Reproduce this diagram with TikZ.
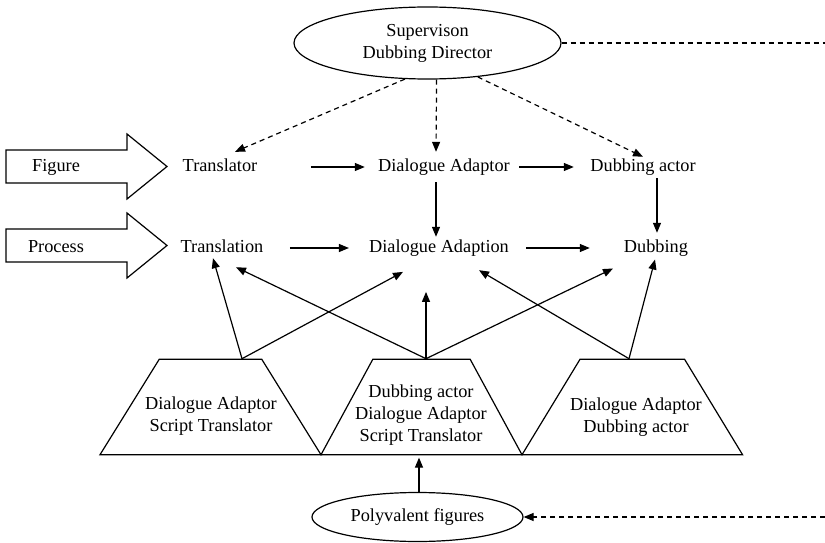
\documentclass[tikz,border=0pt]{standalone}
\usepackage{fontspec}
\setmainfont{Liberation Serif}
\usetikzlibrary{shapes.geometric,arrows.meta}
\begin{document}
\begin{tikzpicture}[x=1pt,y=-1pt,
  every node/.style={font=\fontsize{18.3}{22}\selectfont},
  lbl/.style={inner sep=0pt, text height=12pt, text depth=4pt},
  ln/.style={line width=1.2pt},
  arr/.style={ln, -{Triangle[length=10pt,width=8pt]}},
  darr/.style={arr, dash pattern=on 5pt off 4pt},
  dln/.style={ln, dash pattern=on 5pt off 4pt},
  trap/.style={draw, ln, trapezium, trapezium stretches=true, minimum height=95.4pt, inner sep=2pt},
  oval/.style={draw, ln, ellipse, inner sep=0pt, align=center},
  barrow/.style={draw, ln, line join=miter},
  inner/.style={inner sep=0pt, align=center}
]
\useasboundingbox (0,0) rectangle (825,543);

% top ellipse
\node[oval, minimum width=267pt, minimum height=72pt] (sup) at (427.5,43) {Supervison\\Dubbing Director};
\coordinate (tend) at (825,43);
\draw[dln] (sup.east) -- (tend);

% block arrows
\draw[barrow] (6,150) -- (127,150) -- (127,134) -- (167,166.5) -- (127,199) -- (127,183) -- (6,183) -- cycle;
\node[lbl] (fig) at (56,167) {Figure};
\draw[barrow] (6,229) -- (127,229) -- (127,213) -- (167,245.5) -- (127,278) -- (127,262) -- (6,262) -- cycle;
\node[lbl] (proc) at (56,248) {Process};

% row 1
\node[lbl] (tr) at (220,167) {Translator};
\node[lbl] (dad) at (444,167) {Dialogue Adaptor};
\node[lbl] (dac) at (643,167) {Dubbing actor};
% row 2
\node[lbl] (tn) at (222,248) {Translation};
\node[lbl] (dan) at (439,248) {Dialogue Adaption};
\node[lbl] (dub) at (656,248) {Dubbing};

% horizontal arrows
\draw[arr, shorten <=53.4pt, shorten >=13.2pt] (tr.east) -- (dad.west);
\draw[arr, shorten <=9.2pt, shorten >=16.4pt] (dad.east) -- (dac.west);
\draw[arr, shorten <=26.3pt, shorten >=20pt] (tn.east) -- (dan.west);
\draw[arr, shorten <=17pt, shorten >=34pt] (dan.east) -- (dub.west);

% vertical arrows
\draw[arr] ([xshift=-8pt,yshift=-7pt]dad.south) -- ([xshift=-3pt,yshift=3pt]dan.north);
\draw[arr] ([xshift=14pt,yshift=-3pt]dac.south) -- ([xshift=1pt,yshift=7pt]dub.north);

% dashed arrows from supervision
\draw[darr] (sup.238.6) -- ([xshift=15pt,yshift=7pt]tr.north);
\draw[darr] (sup.284) -- ([xshift=-8pt,yshift=7pt]dad.north);
\draw[darr] (sup.326) -- ([yshift=2pt]dac.north);

% trapezia
\node[trap, trapezium angle=60, minimum width=221pt] (trapA) at (210.5,407) {};
\node[trap, trapezium angle=62, minimum width=201pt] (trapB) at (421.5,407) {};
\node[trap, trapezium angle=61, minimum width=220.6pt] (trapC) at (632.3,407) {};
\node[inner] (txA) at ([xshift=0.5pt,yshift=-9pt]trapA.center) {Dialogue Adaptor\\Script Translator};
\node[inner] (txB) at ([xshift=-0.5pt,yshift=-8pt]trapB.center) {Dubbing actor\\Dialogue Adaptor\\Script Translator};
\node[inner] (txC) at ([xshift=3.7pt,yshift=-10pt]trapC.center) {Dialogue Adaptor\\Dubbing actor};

% connectors from trapezia
\draw[arr] ([xshift=31.5pt]trapA.north) -- ([xshift=-9pt,yshift=-2pt]tn.south);
\draw[arr] ([xshift=31.5pt]trapA.north) -- ([xshift=-36pt,yshift=-15.7pt]dan.south);
\draw[arr] ([xshift=4.5pt]trapB.north) -- ([xshift=14pt,yshift=-11pt]tn.south);
\draw[arr] ([xshift=4.5pt]trapB.north) -- ([xshift=-13pt,yshift=-35.7pt]dan.south);
\draw[arr] ([xshift=4.5pt]trapB.north) -- ([xshift=-43pt,yshift=-12.3pt]dub.south);
\draw[arr] ([xshift=-3.3pt]trapC.north) -- ([xshift=40pt,yshift=-14pt]dan.south);
\draw[arr] ([xshift=-3.3pt]trapC.north) -- ([xshift=-1pt,yshift=-3.3pt]dub.south);

% bottom ellipse
\node[oval, minimum width=211pt, minimum height=49pt] (poly) at (417.5,517) {Polyvalent figures};
\draw[arr] ([xshift=1.5pt]poly.north) -- ([xshift=-2.5pt,yshift=-2.3pt]trapB.south);
\coordinate (bend) at (825,517);
\draw[darr] (bend) -- (poly.east);
\end{tikzpicture}
\end{document}
